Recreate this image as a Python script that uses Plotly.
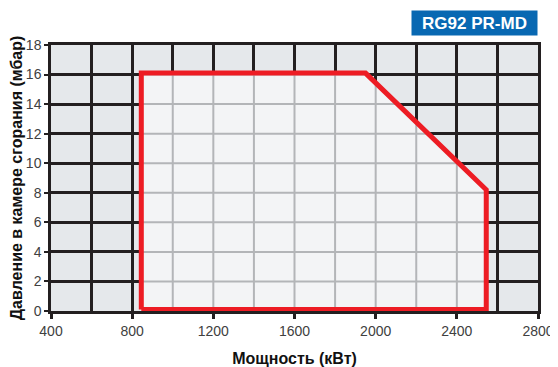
import numpy as np
import plotly.graph_objects as go

# Working field of the burner (power kW, pressure mbar)
power_kw = [845, 845, 1950, 2545, 2545, 845]
pressure_mbar = [0.1, 16.1, 16.1, 8.2, 0.1, 0.1]

x_ticks = [400, 800, 1200, 1600, 2000, 2400, 2800]
y_ticks = [0, 2, 4, 6, 8, 10, 12, 14, 16, 18]
x_grid = list(range(400, 2801, 200))
title_text = "RG92 PR-MD"

DARK = "#231f20"
fig = go.Figure()

# inner fill
fig.add_trace(go.Scatter(x=power_kw, y=pressure_mbar, mode="lines", fill="toself",
                         fillcolor="#f3f4f6", line=dict(width=0), hoverinfo="skip",
                         showlegend=False))

# light grid clipped to the polygon
px = np.array(power_kw[:-1], float)
py = np.array(pressure_mbar[:-1], float)
xmin, xmax = px.min(), px.max()
ymin = py.min()
top_x = px[1:4]; top_y = py[1:4]
right_pts_y = np.array([py[4], py[3], py[2]])
right_pts_x = np.array([px[4], px[3], px[2]])
gx, gy = [], []
for xv in x_grid:
    if xmin < xv < xmax:
        ytop = np.interp(xv, top_x, top_y)
        gx += [xv, xv, None]; gy += [ymin, ytop, None]
for yv in y_ticks:
    if ymin < yv < py.max():
        xr = np.interp(yv, right_pts_y, right_pts_x)
        gx += [xmin, xr, None]; gy += [yv, yv, None]
fig.add_trace(go.Scatter(x=gx, y=gy, mode="lines", line=dict(color="#b3b5b8", width=2),
                         hoverinfo="skip", showlegend=False))

# red outline
fig.add_trace(go.Scatter(x=power_kw, y=pressure_mbar, mode="lines",
                         line=dict(color="#ed1c24", width=5), hoverinfo="skip",
                         showlegend=False))

axis_font = dict(family="Liberation Sans, Arial, sans-serif", size=14, color="#404040")
title_font = dict(family="Liberation Sans Narrow, Arial Narrow, Liberation Sans, sans-serif",
                  size=16, color="#111111")

# the page body has an 8px margin: figure is 550x359 placed at (8, 8)
fig.update_layout(
    width=550, height=359,
    margin=dict(l=43, r=20, t=37, b=56),
    paper_bgcolor="white", plot_bgcolor="#e5e8eb",
    xaxis=dict(range=[400, 2800], tickvals=x_ticks, ticktext=[str(v) for v in x_ticks],
               showgrid=True, gridcolor=DARK, gridwidth=2.5,
               minor=dict(dtick=200, tick0=400, showgrid=True, gridcolor=DARK, gridwidth=2.5),
               showline=True, linecolor=DARK, linewidth=2.5, mirror=True,
               ticks="outside", ticklen=5, tickwidth=2.5, tickcolor=DARK,
               tickfont=axis_font, zeroline=False, automargin=False,
               title=dict(text="<b>Мощность (кВт)</b>", font=title_font, standoff=22)),
    yaxis=dict(range=[0, 18], tickvals=y_ticks, showgrid=True, gridcolor=DARK, gridwidth=2.5,
               showline=True, linecolor=DARK, linewidth=2.5, mirror=True,
               ticks="outside", ticklen=4, tickwidth=2, tickcolor=DARK,
               tickfont=axis_font, zeroline=False, automargin=False,
               title=dict(text="<b>Давление в камере сгорания (мбар)</b>", font=title_font,
                          standoff=8)),
    annotations=[dict(text="<b>" + title_text + "</b>", xref="paper", yref="paper",
                      x=1.0, y=1.132, xanchor="right", yanchor="top", showarrow=False,
                      font=dict(family="Liberation Sans, Arial, sans-serif", size=17,
                                color="white"),
                      bgcolor="#0868b2", borderpad=2, width=121, height=20)],
)

fig.write_html("out.html")
